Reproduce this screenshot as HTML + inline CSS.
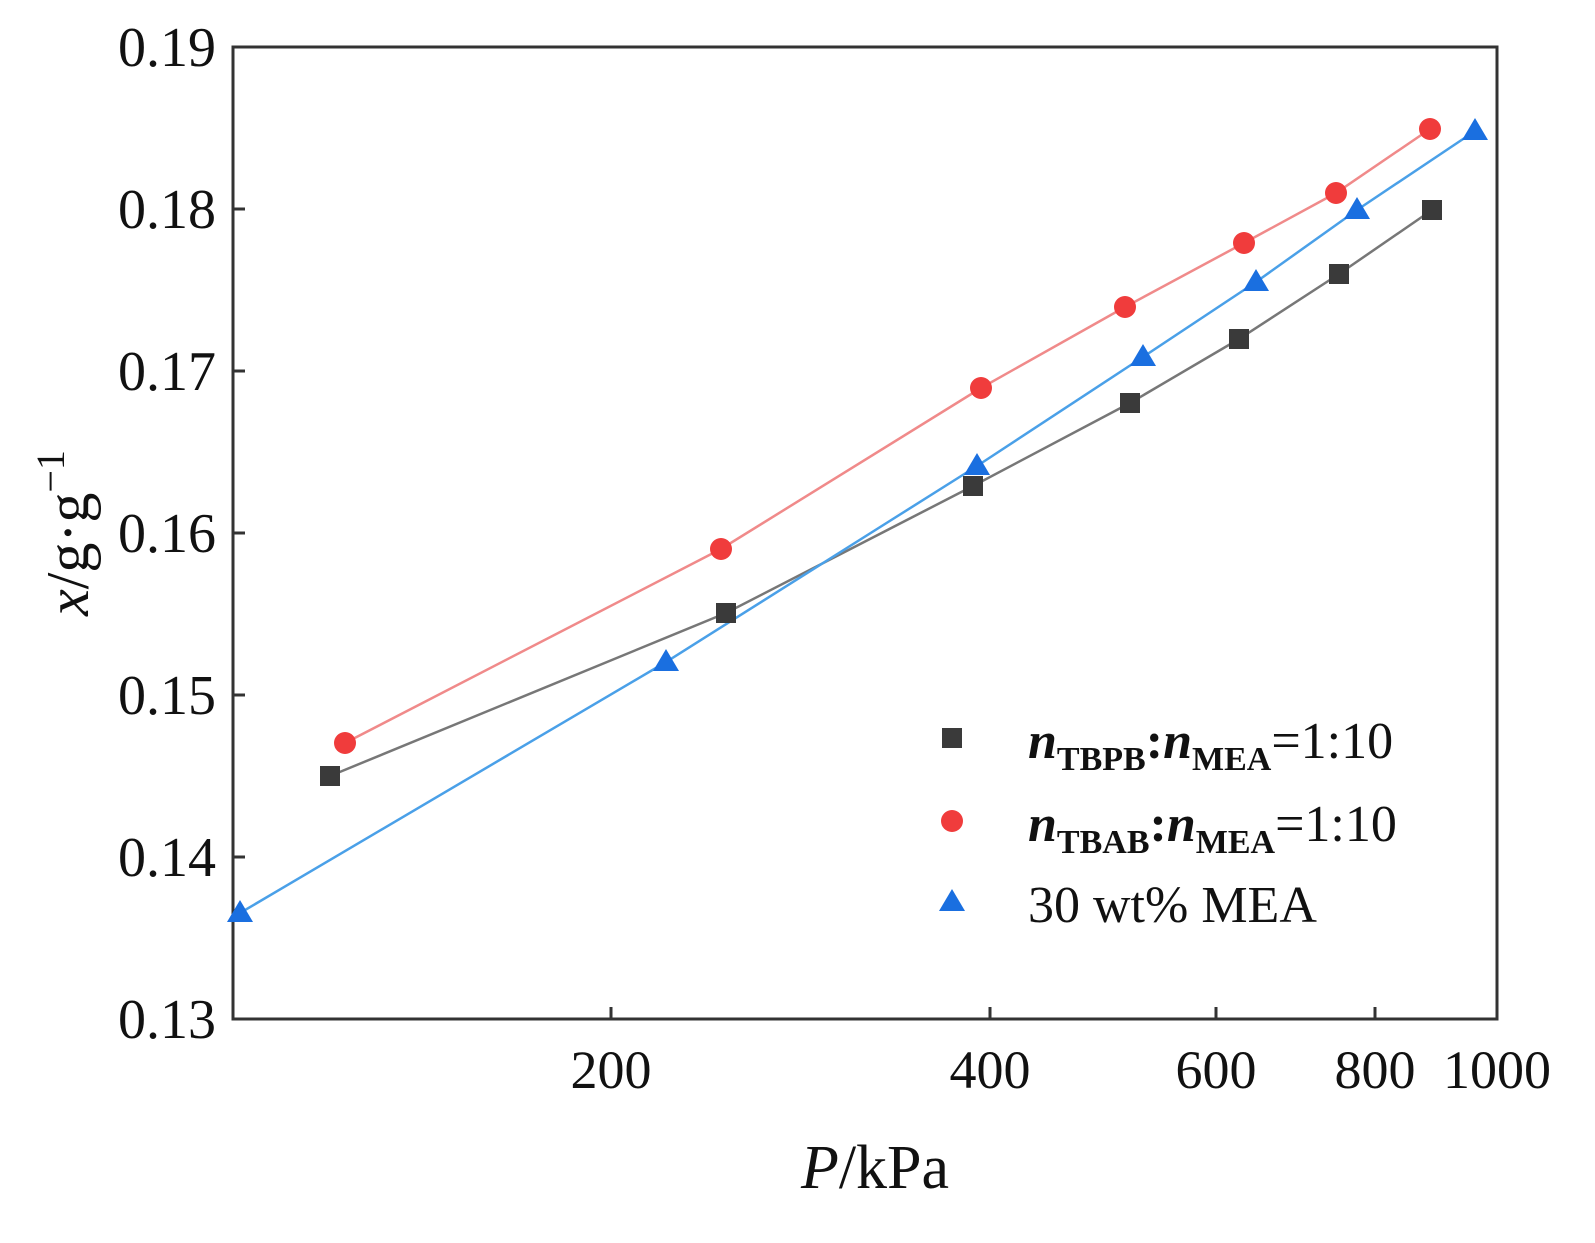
<!DOCTYPE html>
<html><head><meta charset="utf-8"><style>
html,body{margin:0;padding:0;background:#fff}
svg{display:block}
text{font-family:"Liberation Serif",serif;fill:#111}
</style></head><body>
<svg width="1595" height="1243" viewBox="0 0 1595 1243" xmlns="http://www.w3.org/2000/svg">
<rect x="233" y="47" width="1264" height="972" fill="none" stroke="#333" stroke-width="3"/>
<g stroke="#333" stroke-width="3">
<line x1="233" y1="209" x2="245" y2="209"/><line x1="233" y1="371" x2="245" y2="371"/>
<line x1="233" y1="533" x2="245" y2="533"/><line x1="233" y1="695" x2="245" y2="695"/>
<line x1="233" y1="857" x2="245" y2="857"/>
<line x1="611" y1="1019" x2="611" y2="1007"/><line x1="990" y1="1019" x2="990" y2="1007"/>
<line x1="1216" y1="1019" x2="1216" y2="1007"/><line x1="1375" y1="1019" x2="1375" y2="1007"/>
</g>
<g font-size="56" text-anchor="end">
<text x="216" y="66">0.19</text><text x="216" y="228">0.18</text><text x="216" y="390">0.17</text>
<text x="216" y="552">0.16</text><text x="216" y="714">0.15</text><text x="216" y="876">0.14</text>
<text x="216" y="1038">0.13</text>
</g>
<g font-size="54" text-anchor="middle">
<text x="611" y="1088">200</text><text x="990" y="1088">400</text><text x="1216" y="1088">600</text>
<text x="1375" y="1088">800</text><text x="1497" y="1088">1000</text>
</g>
<text x="875" y="1188" font-size="62" text-anchor="middle"><tspan font-style="italic">P</tspan>/kPa</text>
<text transform="translate(88,533) rotate(-90)" font-size="60" text-anchor="middle"><tspan font-style="italic">x</tspan>/g·g<tspan dy="-24" font-size="40">−1</tspan></text>
<polyline fill="none" stroke="#777" stroke-width="2.5" points="330,776 726,613 973,486 1130,403 1239,339 1339,274 1432,210"/>
<polyline fill="none" stroke="#f08a8a" stroke-width="2.5" points="345,743 721,549 981,388 1125,307 1244,243 1336,193 1430,129"/>
<polyline fill="none" stroke="#4aa0e8" stroke-width="2.5" points="240,913 666,662 977,466 1143,357 1256,282 1357,210 1475,131"/>
<g fill="#3a3a3a">
<rect x="320" y="766" width="20" height="20"/><rect x="716" y="603" width="20" height="20"/>
<rect x="963" y="476" width="20" height="20"/><rect x="1120" y="393" width="20" height="20"/>
<rect x="1229" y="329" width="20" height="20"/><rect x="1329" y="264" width="20" height="20"/>
<rect x="1422" y="200" width="20" height="20"/><rect x="942" y="728" width="20" height="20"/>
</g>
<g fill="#f03c3c">
<circle cx="345" cy="743" r="11"/><circle cx="721" cy="549" r="11"/><circle cx="981" cy="388" r="11"/>
<circle cx="1125" cy="307" r="11"/><circle cx="1244" cy="243" r="11"/><circle cx="1336" cy="193" r="11"/>
<circle cx="1430" cy="129" r="11"/><circle cx="952" cy="821" r="11"/>
</g>
<g fill="#1a6fe0">
<polygon points="240,900 253,922 227,922"/><polygon points="666,649 679,671 653,671"/>
<polygon points="977,453 990,475 964,475"/><polygon points="1143,344 1156,366 1130,366"/>
<polygon points="1256,269 1269,291 1243,291"/><polygon points="1357,197 1370,219 1344,219"/>
<polygon points="1475,118 1488,140 1462,140"/><polygon points="952,889 965,911 939,911"/>
</g>
<g font-size="52">
<text x="1028" y="758"><tspan font-weight="bold" font-style="italic">n</tspan><tspan font-weight="bold" font-size="34" dy="12">TBPB</tspan><tspan font-weight="bold" dy="-12">:</tspan><tspan font-weight="bold" font-style="italic">n</tspan><tspan font-weight="bold" font-size="34" dy="12">MEA</tspan><tspan dy="-12">=1:10</tspan></text>
<text x="1028" y="841"><tspan font-weight="bold" font-style="italic">n</tspan><tspan font-weight="bold" font-size="34" dy="12">TBAB</tspan><tspan font-weight="bold" dy="-12">:</tspan><tspan font-weight="bold" font-style="italic">n</tspan><tspan font-weight="bold" font-size="34" dy="12">MEA</tspan><tspan dy="-12">=1:10</tspan></text>
<text x="1028" y="922">30 wt% MEA</text>
</g>
</svg>
</body></html>
